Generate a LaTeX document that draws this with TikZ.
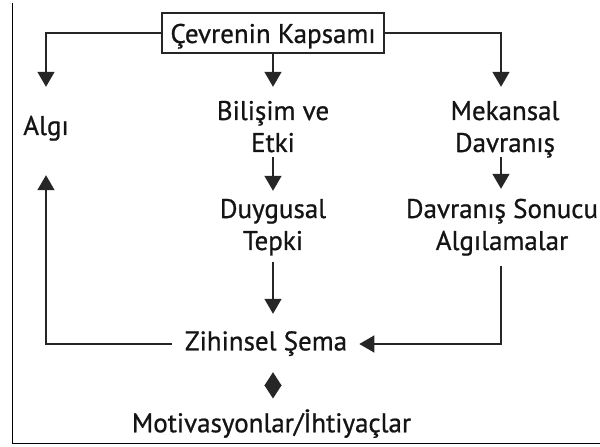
\documentclass[tikz,border=0pt]{standalone}
\usepackage{fontspec}
\setmainfont{PT Sans}[RawFeature={embolden=0.8}]
\usetikzlibrary{arrows.meta}
\begin{document}
\begin{tikzpicture}[x=1bp,y=-1bp,
  lbl/.style={font=\fontsize{27bp}{32bp}\selectfont, inner sep=0pt, align=center, text=black!92},
  boxed/.style={draw=black!85, line width=1.6bp, font=\fontsize{27bp}{32bp}\selectfont, text=black!92,
    minimum width=222bp, text height=20bp, text depth=0bp, inner xsep=0pt, inner ysep=10bp},
  conn/.style={line width=1.6bp, draw=black!85},
  arr/.style={-{Triangle[width=17bp,length=15bp]}},
  diam/.style={{Triangle[width=17bp,length=13.5bp]}-{Triangle[width=17bp,length=13.5bp]}},
  frameline/.style={line width=1bp, draw=black}]
\useasboundingbox (0,0) rectangle (600,447);
\draw[frameline] (12,3) -- (12,443) -- (600,443);

\node[boxed] (top) at (273,33) {Çevrenin Kapsamı};
\node[lbl] (algi) at (46,128.6) {\strut Algı};
\node[lbl] (bil) at (273,129.6) {\strut Bilişim ve\\\strut Etki};
\node[lbl] (mek) at (505,129.6) {\strut Mekansal\\\strut Davranış};
\node[lbl] (duy) at (273,227.6) {\strut Duygusal\\\strut Tepki};
\node[lbl] (son) at (502,227.6) {\strut Davranış Sonucu\\\strut Algılamalar};
\node[lbl] (zih) at (266,344) {\strut Zihinsel Şema};
\node[lbl] (mot) at (271.5,425.6) {\strut Motivasyonlar/İhtiyaçlar};

\draw[conn,arr,shorten >=25.6bp] (top.west) -| (algi.north);
\draw[conn,arr,shorten >=10.6bp] (top.south) -- (bil.north);
\draw[conn,arr,shorten >=10.6bp] (top.east) -| ([xshift=-4bp]mek.north);
\draw[conn,arr,shorten <=-4.6bp,shorten >=4.6bp] (bil.south) -- (duy.north);
\draw[conn,arr,shorten <=-4.6bp,shorten >=6.6bp] ([xshift=-4bp]mek.south) -- ([xshift=-1bp]son.north);
\draw[conn,arr,shorten <=2.4bp,shorten >=14bp] (duy.south) -- (duy.south |- zih.north);
\draw[conn,arr,shorten <=6.4bp,shorten >=12bp] ([xshift=-1bp]son.south) |- (zih.east);
\draw[conn,arr,shorten <=13bp,shorten >=30.4bp] (zih.west) -| (algi.south);
\draw[conn,diam,shorten <=12bp,shorten >=10.6bp] (duy.south |- zih.south) -- (duy.south |- mot.north);
\end{tikzpicture}
\end{document}
